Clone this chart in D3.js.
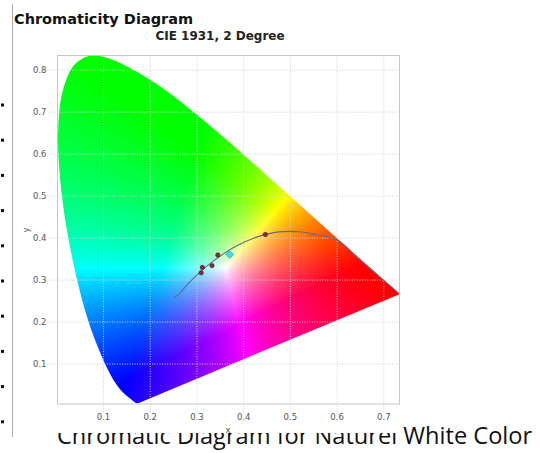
<!DOCTYPE html>
<html>
<head>
<meta charset="utf-8">
<script src="https://cdn.jsdelivr.net/npm/d3@7"></script>
<style>
  body { margin: 0; background: #fff; }
  svg { display: block; }
</style>
</head>
<body>
<div id="chart"></div>
<script>
// Spectral locus, CIE 1931 2 degree observer, 380 - 700 nm
var locusX = [0.1741, 0.1740, 0.1738, 0.1736, 0.1733, 0.1730, 0.1726, 0.1721, 0.1714, 0.1703,
  0.1689, 0.1669, 0.1644, 0.1611, 0.1566, 0.1510, 0.1440, 0.1355, 0.1241, 0.1096,
  0.0913, 0.0687, 0.0454, 0.0235, 0.0082, 0.0039, 0.0139, 0.0389, 0.0743, 0.1142,
  0.1547, 0.1929, 0.2296, 0.2658, 0.3016, 0.3373, 0.3731, 0.4087, 0.4441, 0.4788,
  0.5125, 0.5448, 0.5752, 0.6029, 0.6270, 0.6482, 0.6658, 0.6801, 0.6915, 0.7006,
  0.7079, 0.7140, 0.7190, 0.7230, 0.7260, 0.7283, 0.7300, 0.7311, 0.7320, 0.7334,
  0.7344, 0.7347];
var locusY = [0.0050, 0.0050, 0.0049, 0.0049, 0.0048, 0.0048, 0.0048, 0.0048, 0.0051, 0.0058,
  0.0069, 0.0086, 0.0109, 0.0138, 0.0177, 0.0227, 0.0297, 0.0399, 0.0578, 0.0868,
  0.1327, 0.2007, 0.2950, 0.4127, 0.5384, 0.6548, 0.7502, 0.8120, 0.8338, 0.8262,
  0.8059, 0.7816, 0.7543, 0.7243, 0.6923, 0.6589, 0.6245, 0.5896, 0.5547, 0.5202,
  0.4866, 0.4544, 0.4242, 0.3965, 0.3725, 0.3514, 0.3340, 0.3197, 0.3083, 0.2993,
  0.2920, 0.2859, 0.2809, 0.2770, 0.2740, 0.2717, 0.2700, 0.2689, 0.2680, 0.2666,
  0.2656, 0.2653];

// Planckian locus (hot end -> red end)
var planckX = [0.2512, 0.2637, 0.2807, 0.2952, 0.3135, 0.3325, 0.3608, 0.3805, 0.4053,
  0.4369, 0.4770, 0.5267, 0.5584, 0.6013, 0.6528, 0.6930, 0.7333];
var planckY = [0.2559, 0.2672, 0.2884, 0.3048, 0.3237, 0.3411, 0.3636, 0.3768, 0.3907,
  0.4041, 0.4137, 0.4133, 0.4062, 0.3944, 0.3444, 0.3060, 0.2677];

// reference white points
var pointNames = ["C", "D65", "E", "D50", "A"];
var pointX = [0.3101, 0.3127, 0.3333, 0.3457, 0.4476];
var pointY = [0.3162, 0.3290, 0.3333, 0.3585, 0.4074];

// measured sample
var sampleX = [0.371];
var sampleY = [0.360];

var xTicks = [0.1, 0.2, 0.3, 0.4, 0.5, 0.6, 0.7];
var yTicks = [0.1, 0.2, 0.3, 0.4, 0.5, 0.6, 0.7, 0.8];

var svgWidth = 540;
var svgHeight = 453;

var plot = { left: 58, right: 399.5, top: 55.5, bottom: 403.5 };

var svg = d3.select("#chart")
  .append("svg")
  .attr("width", svgWidth)
  .attr("height", svgHeight);

// caption of the page, partly hidden behind the chart picture
svg.append("text")
  .attr("x", 57)
  .attr("y", 444)
  .attr("font-family", "Open Sans")
  .attr("font-size", "23.6px")
  .attr("fill", "#111")
  .text("Chromatic Diagram for Naturel White Color");

svg.append("rect")
  .attr("x", 13)
  .attr("y", 0)
  .attr("width", 387)
  .attr("height", 433)
  .attr("fill", "#fff");

svg.append("line")
  .attr("x1", 12.5).attr("x2", 12.5)
  .attr("y1", 4).attr("y2", 437)
  .attr("stroke", "#aaa");

// list bullets of the page on the far left
svg.selectAll(null)
  .data(d3.range(10))
  .enter()
  .append("rect")
  .attr("x", 1)
  .attr("y", d => 103.5 + d * 35.2)
  .attr("width", 3)
  .attr("height", 3)
  .attr("fill", "#111");

svg.append("text")
  .attr("x", 14)
  .attr("y", 24)
  .attr("font-family", "DejaVu Sans")
  .attr("font-weight", "bold")
  .attr("font-size", "14.5px")
  .attr("fill", "#111")
  .text("Chromaticity Diagram");

svg.append("text")
  .attr("x", 220)
  .attr("y", 39.5)
  .attr("text-anchor", "middle")
  .attr("font-family", "DejaVu Sans")
  .attr("font-weight", "bold")
  .attr("font-size", "12px")
  .attr("fill", "#222")
  .text("CIE 1931, 2 Degree");

var xScale = d3.scaleLinear()
  .domain([0.0036, 0.7347])
  .range([plot.left, plot.right]);

var yScale = d3.scaleLinear()
  .domain([0.0048, 0.8338])
  .range([plot.bottom, plot.top]);

var locus = locusX.map((x, i) => [x, locusY[i]]);
var planck = planckX.map((x, i) => [x, planckY[i]]);

// xy -> linear sRGB
function xyToRgb(x, y) {
  var X = x / y, Y = 1, Z = (1 - x - y) / y;
  return [
    3.2406 * X - 1.5372 * Y - 0.4986 * Z,
    -0.9689 * X + 1.8758 * Y + 0.0415 * Z,
    0.0557 * X - 0.2040 * Y + 1.0570 * Z
  ];
}

// the fill of the picture looks balanced on a warm white
var fillWhite = xyToRgb(0.362, 0.328);

function xyColor(x, y) {
  var c = xyToRgb(x, y).map((v, i) => Math.max(0, v) / fillWhite[i]);
  var m = Math.max(c[0], c[1], c[2]);
  return c.map(v => Math.round(255 * Math.pow(v / m, 1 / 1.1)));
}

var pw = Math.ceil(plot.right - plot.left), ph = Math.ceil(plot.bottom - plot.top);
var canvas = document.createElement("canvas");
canvas.width = pw;
canvas.height = ph;
var ctx = canvas.getContext("2d");
var img = ctx.createImageData(pw, ph);
for (var j = 0; j < ph; j++) {
  for (var i = 0; i < pw; i++) {
    var c = xyColor(xScale.invert(plot.left + i + 0.5), Math.max(0.004, yScale.invert(plot.top + j + 0.5)));
    var k = (j * pw + i) * 4;
    img.data[k] = c[0]; img.data[k + 1] = c[1]; img.data[k + 2] = c[2]; img.data[k + 3] = 255;
  }
}
ctx.putImageData(img, 0, 0);

var smoothLine = d3.line()
  .x(d => xScale(d[0]))
  .y(d => yScale(d[1]))
  .curve(d3.curveCatmullRom.alpha(0.5));

svg.append("clipPath")
  .attr("id", "horseshoe")
  .append("path")
  .attr("d", smoothLine(locus) + "Z");

svg.append("image")
  .attr("x", plot.left)
  .attr("y", plot.top)
  .attr("width", pw)
  .attr("height", ph)
  .attr("preserveAspectRatio", "none")
  .attr("href", canvas.toDataURL())
  .attr("clip-path", "url(#horseshoe)");

// axes with dotted grid
var leftAxis = d3.axisLeft(yScale)
  .tickValues(yTicks)
  .tickFormat(d3.format(".1f"))
  .tickSize(-(plot.right - 49.5))
  .tickPadding(3);

var bottomAxis = d3.axisBottom(xScale)
  .tickValues(xTicks)
  .tickFormat(d3.format(".1f"))
  .tickSize(-(412 - plot.top))
  .tickPadding(2);

var yAxisG = svg.append("g")
  .attr("transform", "translate(49.5,0)")
  .call(leftAxis);

var xAxisG = svg.append("g")
  .attr("transform", "translate(0,412)")
  .call(bottomAxis);

[yAxisG, xAxisG].forEach(function (g) {
  g.select(".domain").remove();
  g.selectAll(".tick line")
    .attr("stroke", "#d2d2d2")
    .attr("stroke-dasharray", "1,1.5");
  g.selectAll(".tick text")
    .attr("fill", "#555")
    .attr("font-family", "DejaVu Sans")
    .attr("font-size", "8.5px");
});

svg.append("rect")
  .attr("x", 57.5)
  .attr("y", plot.top)
  .attr("width", 342)
  .attr("height", plot.bottom - plot.top + 0.5)
  .attr("fill", "none")
  .attr("stroke", "#c6c6c6");

svg.append("text")
  .attr("transform", "translate(26,230) rotate(-90)")
  .attr("text-anchor", "middle")
  .attr("dy", "0.35em")
  .attr("font-family", "DejaVu Sans")
  .attr("font-size", "8.5px")
  .attr("fill", "#555")
  .text("y");

svg.append("text")
  .attr("x", 228)
  .attr("y", 433)
  .attr("text-anchor", "middle")
  .attr("font-family", "DejaVu Sans")
  .attr("font-size", "8.5px")
  .attr("fill", "#555")
  .text("x");

// Planckian locus
svg.append("path")
  .attr("d", smoothLine(planck))
  .attr("fill", "none")
  .attr("stroke", "#66678a")
  .attr("stroke-width", 1.1);

svg.selectAll(null)
  .data(pointNames)
  .enter()
  .append("circle")
  .attr("cx", (d, i) => xScale(pointX[i]))
  .attr("cy", (d, i) => yScale(pointY[i]))
  .attr("r", 2.2)
  .attr("fill", "#7c2e34")
  .attr("stroke", "#5a1e22")
  .attr("stroke-width", 0.6);

svg.selectAll(null)
  .data(sampleX)
  .enter()
  .append("path")
  .attr("d", d3.symbol(d3.symbolSquare, 30)())
  .attr("transform", (d, i) => `translate(${xScale(d)},${yScale(sampleY[i])}) rotate(45)`)
  .attr("fill", "#45dede")
  .attr("stroke", "#2bb0b4")
  .attr("stroke-width", 0.8);
</script>
</body>
</html>
